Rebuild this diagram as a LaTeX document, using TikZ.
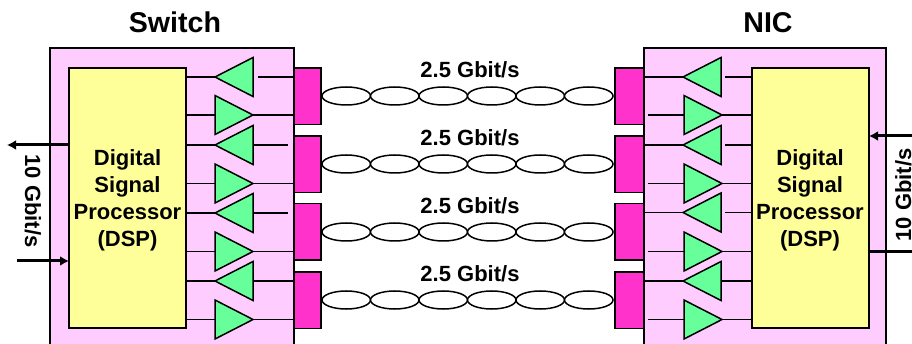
\documentclass[tikz,border=0pt]{standalone}
\usepackage{fontspec}
\setmainfont{Liberation Sans}
\usetikzlibrary{shapes.geometric,arrows.meta}
\definecolor{boxpink}{HTML}{FFCCFF}
\definecolor{dspyellow}{HTML}{FFFF99}
\definecolor{trigreen}{HTML}{66FF99}
\definecolor{portmag}{HTML}{FF33CC}
\tikzset{
  x=1pt,y=-1pt,
  every node/.style={inner sep=0pt,outer sep=0pt},
  boxbase/.style={draw=black,line width=1.5pt,anchor=north west},
  card/.style={boxbase,fill=boxpink,minimum width=#1,minimum height=310pt},
  dspbox/.style={boxbase,fill=dspyellow,minimum width=117pt,minimum height=260pt},
  port/.style={boxbase,fill=portmag,minimum width=#1,minimum height=56.5pt},
  amp/.style={isosceles triangle,isosceles triangle stretches,draw=black,line width=1.5pt,
    fill=trigreen,minimum width=39pt,minimum height=38pt,anchor=apex,shape border rotate=#1},
  twist/.style={ellipse,draw=black,line width=1.5pt,fill=white,minimum width=48.5pt,minimum height=18pt},
  wire/.style={draw=black,line width=1.5pt},
  bus/.style={draw=black,line width=3pt},
  busarrow/.style={bus,-{Latex[length=9pt,width=10pt]}},
  title/.style={font=\fontsize{28.6}{32}\selectfont\bfseries},
  lbl/.style={font=\fontsize{22}{27}\selectfont\bfseries,align=center},
}
\begin{document}
\begin{tikzpicture}
\useasboundingbox (0,0) rectangle (912,344);
\clip (0,0) rectangle (912,344);
% cards
\node[card=244pt] (swcard) at (50,48) {};
\node[card=242pt] (niccard) at (644,48) {};
\node[dspbox] (swdsp) at (69,68) {};
\node[dspbox] (nicdsp) at (752,68) {};
\node[title,anchor=base] (swtitle) at (175,33) {Switch};
\node[title,anchor=base] (nictitle) at (768,33) {NIC};
\node[lbl,anchor=base] (swd1) at (127.5,166) {Digital};
\node[lbl,anchor=base] (swd2) at (127.5,193) {Signal};
\node[lbl,anchor=base] (swd3) at (127.5,220) {Processor};
\node[lbl,anchor=base] (swd4) at (127.5,247) {(DSP)};
\node[lbl,anchor=base] (nd1) at (810,166) {Digital};
\node[lbl,anchor=base] (nd2) at (810,193) {Signal};
\node[lbl,anchor=base] (nd3) at (810,220) {Processor};
\node[lbl,anchor=base] (nd4) at (810,247) {(DSP)};
% ports and links
\foreach \i/\t/\c/\b in {1/68/96/78,2/136/164/146,3/203.5/232/214,4/272/300/282}{
  \node[port=27pt] (lp\i) at (294,\t) {};
  \node[port=29pt] (rp\i) at (615,\t) {};
  \node[lbl,anchor=base] (rate\i) at (470,\b) {2.5 Gbit/s};
  \foreach \k/\x in {1/346.25,2/394.75,3/443.25,4/491.75,5/540.25,6/588.75}{
    \node[twist] (tw\i\k) at (\x,\c) {};
  }
}
% left amplifiers, pointing to the DSP
\foreach \n/\y/\o in {1/77/258,3/145/253,5/213/253,7/281/253}{
  \node[amp=180] (la\n) at (215,\y) {};
  \coordinate (lo\n) at (\o,\y);
  \draw[wire] (swdsp.east |- la\n.apex) -- (la\n.apex);
}
\coordinate (le1) at (294,77);
\coordinate (le3) at (288,145);
\coordinate (le5) at (288,213);
\coordinate (le7) at (294,281);
\foreach \n in {1,3,5,7}{ \draw[wire] (lo\n) -- (le\n); }
% left amplifiers, pointing to the ports
\foreach \n/\y in {2/115,4/183.5,6/251.5,8/319.5}{
  \node[amp=0] (la\n) at (253,\y) {};
  \draw[wire] (swdsp.east |- la\n.apex) -- (la\n.lower side);
  \draw[wire] (la\n.apex) -- (swcard.east |- la\n.apex);
}
% right amplifiers, pointing to the ports
\foreach \n/\y/\o in {1/77/725,3/145/725,5/212.5/725,7/281/722}{
  \node[amp=180] (ra\n) at (683,\y) {};
  \coordinate (ro\n) at (\o,\y);
  \draw[wire] (niccard.west |- ra\n.apex) -- (ra\n.apex);
  \draw[wire] (ro\n) -- (nicdsp.west |- ra\n.apex);
}
% right amplifiers, pointing to the DSP
\foreach \n/\y in {2/115,4/183.5,6/251.5,8/319.5}{
  \node[amp=0] (ra\n) at (722,\y) {};
  \coordinate (rs\n) at (648,\y);
  \draw[wire] (rs\n) -- (ra\n.lower side);
  \draw[wire] (ra\n.apex) -- (nicdsp.west |- ra\n.apex);
}
% external buses
\coordinate (sout) at (7,145);
\coordinate (sin) at (17,261);
\coordinate (nin) at (912,136);
\coordinate (nout) at (912,252);
\draw[busarrow] (swdsp.west |- sout) -- (sout);
\draw[busarrow] (sin) -- (swdsp.west |- sin);
\draw[busarrow] (nin) -- (nicdsp.east |- nin);
\draw[bus] (nicdsp.east |- nout) -- (nout);
\node[lbl,rotate=-90,anchor=base] (srate) at (25,201) {10 Gbit/s};
\node[lbl,rotate=90,anchor=base] (nrate) at (911,195) {10 Gbit/s};
\end{tikzpicture}
\end{document}
